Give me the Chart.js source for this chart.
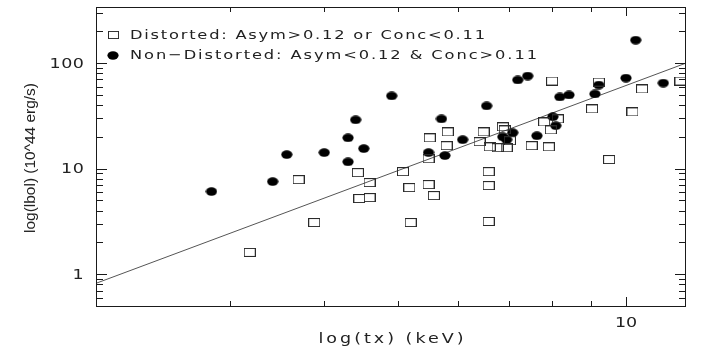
<!DOCTYPE html>
<html>
<head>
<meta charset="utf-8">
<script src="https://cdn.jsdelivr.net/npm/chart.js@4/dist/chart.umd.min.js"></script>
<style>
  html, body { margin: 0; padding: 0; background: #fff; }
  canvas { display: block; }
</style>
</head>
<body>
<canvas id="lx-tx-chart" width="705" height="350"></canvas>
<script>
// distorted clusters (open boxes)
const distTx = [3.19, 3.70, 3.88, 4.43, 4.45, 4.59, 4.59, 5.08, 5.18, 5.49, 5.58, 5.20, 5.49, 5.51, 5.82, 5.80, 6.49, 6.41, 6.59, 6.59, 6.59, 6.88, 6.92, 6.61, 6.77, 6.96, 7.03, 7.51, 7.91, 7.80, 7.96, 8.13, 7.99, 9.02, 9.21, 10.2, 10.5, 11.8, 9.50];
const distLbol = [1.61, 7.87, 3.09, 9.17, 5.21, 7.38, 5.32, 9.37, 6.62, 7.06, 5.56, 3.09, 12.4, 19.6, 22.3, 16.5, 22.3, 18.0, 9.37, 6.91, 3.16, 24.9, 23.3, 16.1, 15.8, 15.8, 18.4, 16.5, 16.1, 27.7, 23.3, 29.6, 67.6, 36.8, 66.2, 34.5, 56.9, 67.6, 12.2];
// non-distorted clusters (filled dots)
const nonTx = [2.84, 3.42, 3.57, 4.00, 4.30, 4.30, 4.40, 4.51, 4.91, 5.71, 6.55, 5.49, 5.77, 6.09, 6.88, 6.96, 7.09, 7.20, 7.42, 7.63, 8.01, 8.08, 8.18, 8.41, 9.10, 9.21, 10.0, 10.3, 11.2];
const nonLbol = [6.07, 7.54, 13.6, 14.2, 11.6, 19.6, 29.0, 15.5, 48.9, 29.6, 39.3, 14.2, 13.3, 18.8, 20.0, 18.8, 21.9, 69.2, 75.4, 20.5, 31.0, 25.5, 47.8, 49.9, 51.0, 62.0, 72.1, 165, 64.7];
// fit line
const fitTx = [2, 12];
const fitLbol = [0.82, 100];

const xMajor = [10];
const xMinor = [3, 4, 5, 6, 7, 8, 9];
const yMajor = [1, 10, 100];
const yMinor = [0.6, 0.7, 0.8, 0.9, 2, 3, 4, 5, 6, 7, 8, 9, 20, 30, 40, 50, 60, 70, 80, 90, 200, 300];

const legendLabels = ["Distorted: Asym>0.12 or Conc<0.11", "Non\u2212Distorted: Asym<0.12 & Conc>0.11"];

const ink = "#222";

function boxImg() {
  const c = document.createElement("canvas");
  c.width = 12; c.height = 9;
  const t = c.getContext("2d");
  t.strokeStyle = "#2a2a2a"; t.lineWidth = 1;
  t.strokeRect(0.5, 0.5, 11, 8);
  return c;
}
function dotImg() {
  const c = document.createElement("canvas");
  c.width = 12; c.height = 9;
  const t = c.getContext("2d");
  t.fillStyle = "#000";
  t.beginPath(); t.ellipse(6, 4.5, 5.6, 4.2, 0, 0, Math.PI * 2); t.fill();
  return c;
}
const box = boxImg(), dot = dotImg();

// wide vector-font look: stretch glyphs a little, spread the rest as letter spacing
function wide(t, str, x, y, width, align, stretch) {
  const k = stretch || 1.25;
  t.letterSpacing = "0px";
  const w0 = t.measureText(str).width * k;
  const sp = Math.max(0, (width - w0) / Math.max(1, str.length - 1)) / k;
  t.letterSpacing = sp + "px";
  const left = align === "center" ? x - width / 2 : align === "right" ? x - width : x;
  t.save();
  t.translate(left, y);
  t.scale(k, 1);
  t.textAlign = "left";
  t.fillText(str, 0, 0);
  t.restore();
  t.letterSpacing = "0px";
}

const frame = {
  id: "idlFrame",
  afterDraw(chart) {
    const { ctx: t, chartArea: a, scales } = chart;
    const sx = scales.x, sy = scales.y;
    t.save();
    t.strokeStyle = "#1a1a1a"; t.lineWidth = 1;
    t.strokeRect(a.left + 0.5, a.top + 0.5, a.right - a.left - 1, a.bottom - a.top);
    t.beginPath();
    const xt = (v, len) => {
      const p = Math.round(sx.getPixelForValue(v)) + 0.5;
      t.moveTo(p, a.bottom); t.lineTo(p, a.bottom - len);
      t.moveTo(p, a.top); t.lineTo(p, a.top + len);
    };
    const yt = (v, len) => {
      const p = Math.round(sy.getPixelForValue(v)) + 0.5;
      t.moveTo(a.left, p); t.lineTo(a.left + len, p);
      t.moveTo(a.right, p); t.lineTo(a.right - len, p);
    };
    xMinor.forEach(v => xt(v, 5));
    xMajor.forEach(v => xt(v, 9));
    yMinor.forEach(v => yt(v, 7));
    yMajor.forEach(v => yt(v, 11));
    t.stroke();

    t.fillStyle = ink;
    t.textBaseline = "middle";
    t.font = "14px 'DejaVu Sans'";
    yMajor.forEach(v => {
      const s = String(v);
      wide(t, s, a.left - 12, sy.getPixelForValue(v) + 1, s.length * 11.5, "right");
    });
    xMajor.forEach(v => {
      wide(t, String(v), sx.getPixelForValue(v), a.bottom + 17, 22, "center");
    });

    // axis titles
    t.font = "14px 'DejaVu Sans'";
    wide(t, "log(tx) (keV)", (a.left + a.right) / 2, 339, 145, "center");
    t.save();
    t.translate(31, 158);
    t.rotate(-Math.PI / 2);
    t.font = "14px 'Liberation Sans'";
    const yTitle = "log(lbol) (10^44 erg/s)";
    const w = t.measureText(yTitle).width;
    t.scale(150 / w, 1);
    t.textAlign = "center";
    t.fillText(yTitle, 0, 0);
    t.restore();

    // legend
    t.font = "13px 'DejaVu Sans'";
    t.drawImage(box, 108, 31, 11, 8);
    wide(t, legendLabels[0], 130, 36, 355, "left");
    t.drawImage(dot, 107, 51, 12, 9);
    wide(t, legendLabels[1], 130, 56, 407, "left");
    t.restore();
  },
};

const pts = (xs, ys) => xs.map((x, i) => ({ x: x, y: ys[i] }));

new Chart(document.getElementById("lx-tx-chart"), {
  type: "scatter",
  data: {
    datasets: [
      {
        label: legendLabels[0],
        data: pts(distTx, distLbol),
        pointStyle: box,
        pointRadius: 6,
      },
      {
        label: legendLabels[1],
        data: pts(nonTx, nonLbol),
        pointStyle: dot,
        pointRadius: 6,
      },
      {
        label: "fit",
        type: "line",
        data: pts(fitTx, fitLbol),
        borderColor: "#555",
        borderWidth: 1,
        pointRadius: 0,
        fill: false,
      },
    ],
  },
  options: {
    responsive: false,
    animation: false,
    devicePixelRatio: 1,
    layout: { padding: { top: 7, right: 19, left: 0, bottom: 0 } },
    plugins: { legend: { display: false }, tooltip: { enabled: false } },
    scales: {
      x: {
        type: "logarithmic",
        min: 2,
        max: 12,
        ticks: { display: false },
        grid: { display: false },
        border: { display: false },
        afterFit(s) { s.height = 44; },
      },
      y: {
        type: "logarithmic",
        min: 0.5,
        max: 340,
        ticks: { display: false },
        grid: { display: false },
        border: { display: false },
        afterFit(s) { s.width = 96; },
      },
    },
  },
  plugins: [frame],
});
</script>
</body>
</html>
